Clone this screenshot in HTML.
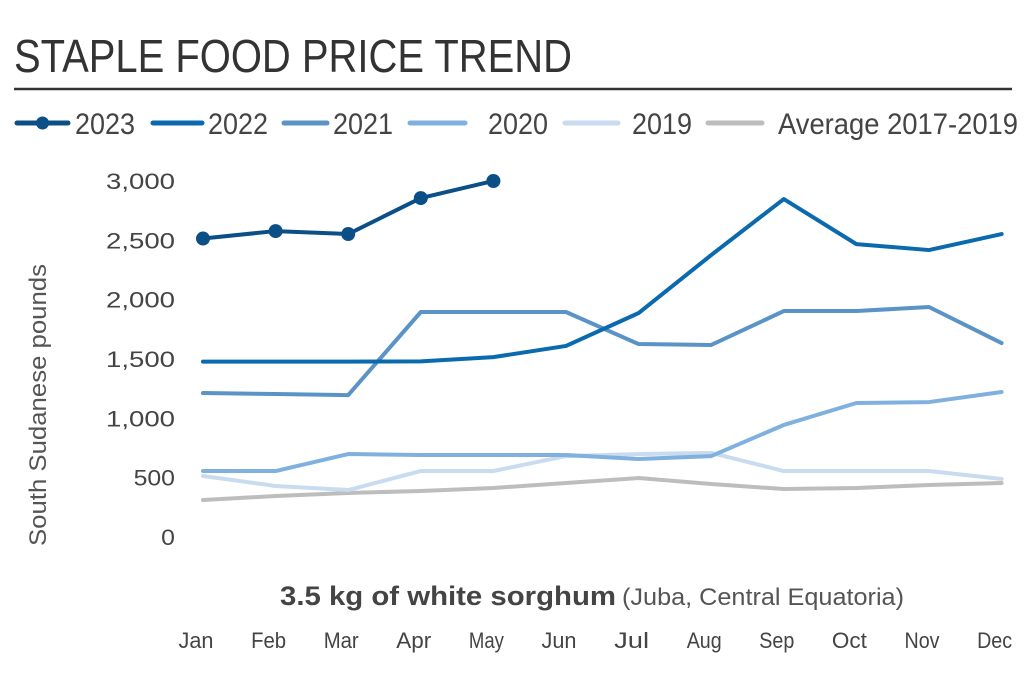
<!DOCTYPE html>
<html><head><meta charset="utf-8"><style>
html,body{margin:0;padding:0;background:#fff;}
svg{display:block;font-family:"Liberation Sans",sans-serif;}
</style></head><body>
<svg id="chart" width="1036" height="681" viewBox="0 0 1036 681">
<text x="14" y="72" font-size="46" fill="#333" textLength="558" lengthAdjust="spacingAndGlyphs">STAPLE FOOD PRICE TREND</text>
<line x1="14" y1="89" x2="1012" y2="89" stroke="#333" stroke-width="2.5"/>
<g id="legend"></g>
<g id="yaxis"></g>
<text transform="translate(46,405) rotate(-90)" text-anchor="middle" font-size="24" fill="#555" textLength="282" lengthAdjust="spacingAndGlyphs">South Sudanese pounds</text>
<g id="series"></g>
<text x="592" y="605" text-anchor="middle" font-size="27" fill="#555"><tspan font-weight="bold" fill="#444" textLength="336" lengthAdjust="spacingAndGlyphs">3.5 kg of white sorghum</tspan><tspan dx="6" font-size="24" textLength="282" lengthAdjust="spacingAndGlyphs">(Juba, Central Equatoria)</tspan></text>
<g id="xaxis"></g>
</svg>
<script>
const months=["Jan","Feb","Mar","Apr","May","Jun","Jul","Aug","Sep","Oct","Nov","Dec"];
const yTicks=[0,500,1000,1500,2000,2500,3000];
const yTickLabels=["0","500","1,000","1,500","2,000","2,500","3,000"];
const v2023=[2515,2578,2553,2856,3000];
const v2022=[1478,1478,1478,1480,1516,1610,1887,2376,2848,2468,2418,2553];
const v2021=[1213,1205,1196,1896,1896,1896,1626,1618,1904,1904,1938,1634];
const v2020=[556,556,699,691,691,691,657,682,944,1129,1137,1222];
const v2019=[514,430,396,556,556,682,699,708,556,556,556,489];
const vAvg=[312,345,371,388,413,455,497,447,404,413,438,455];
const seriesNames=["2023","2022","2021","2020","2019","Average 2017-2019"];

const NS="http://www.w3.org/2000/svg";
const xS=i=>203+i*72.6;
const yS=v=>537-v*0.11867;
function mk(tag,attrs,parent){const e=document.createElementNS(NS,tag);for(const k in attrs)e.setAttribute(k,attrs[k]);parent.appendChild(e);return e;}
const yg=document.getElementById('yaxis');
yTicks.forEach((t,i)=>{const lab=yTickLabels[i];const e=mk('text',{x:175,y:yS(t)+8,'text-anchor':'end','font-size':22,fill:'#444',textLength:lab.length*13.8,lengthAdjust:'spacingAndGlyphs'},yg);e.textContent=lab;

});
const xg=document.getElementById('xaxis');
months.forEach((m,i)=>{const e=mk('text',{x:xS(i)-7,y:648,'text-anchor':'middle','font-size':22,fill:'#444',textLength:35,lengthAdjust:'spacingAndGlyphs'},xg);e.textContent=m;

});
const sg=document.getElementById('series');
const defs=[[vAvg,'#bdbdbd','series-average'],[v2019,'#c9dbef','series-2019'],[v2020,'#7fb0de','series-2020'],[v2021,'#5b93c6','series-2021'],[v2022,'#0a6aad','series-2022'],[v2023,'#0b4f86','series-2023']];
defs.forEach(([vals,col,name])=>{
 const p=mk('polyline',{points:vals.map((v,i)=>xS(i)+','+yS(v)).join(' '),fill:'none',stroke:col,'stroke-width':4,'stroke-linejoin':'round','stroke-linecap':'round'},sg);
 
 
 if(name==='series-2023'){vals.forEach((v,i)=>{const c=mk('circle',{cx:xS(i),cy:yS(v),r:7,fill:col},sg);
 
 });}
});
const lg=document.getElementById('legend');
const legCols=['#0b4f86','#0a6aad','#5b93c6','#7fb0de','#c9dbef','#bdbdbd'];
const legX=[[17,68,75,60],[153,202,208,60],[284,327,333,60],[410,465,488,60],[565,618,632,60],[708,762,778,240]];
seriesNames.forEach((n,i)=>{
 const [x1,x2,tx,tw]=legX[i];
 const l=mk('line',{x1:x1,y1:123,x2:x2,y2:123,stroke:legCols[i],'stroke-width':5,'stroke-linecap':'round'},lg);
 
 
 if(i===0){const c=mk('circle',{cx:(x1+x2)/2,cy:123,r:6.5,fill:legCols[0]},lg);}
 const t=mk('text',{x:tx,y:134,'font-size':30,fill:'#444',textLength:tw,lengthAdjust:'spacingAndGlyphs'},lg);t.textContent=n;
 
 
});
</script>
</body></html>
